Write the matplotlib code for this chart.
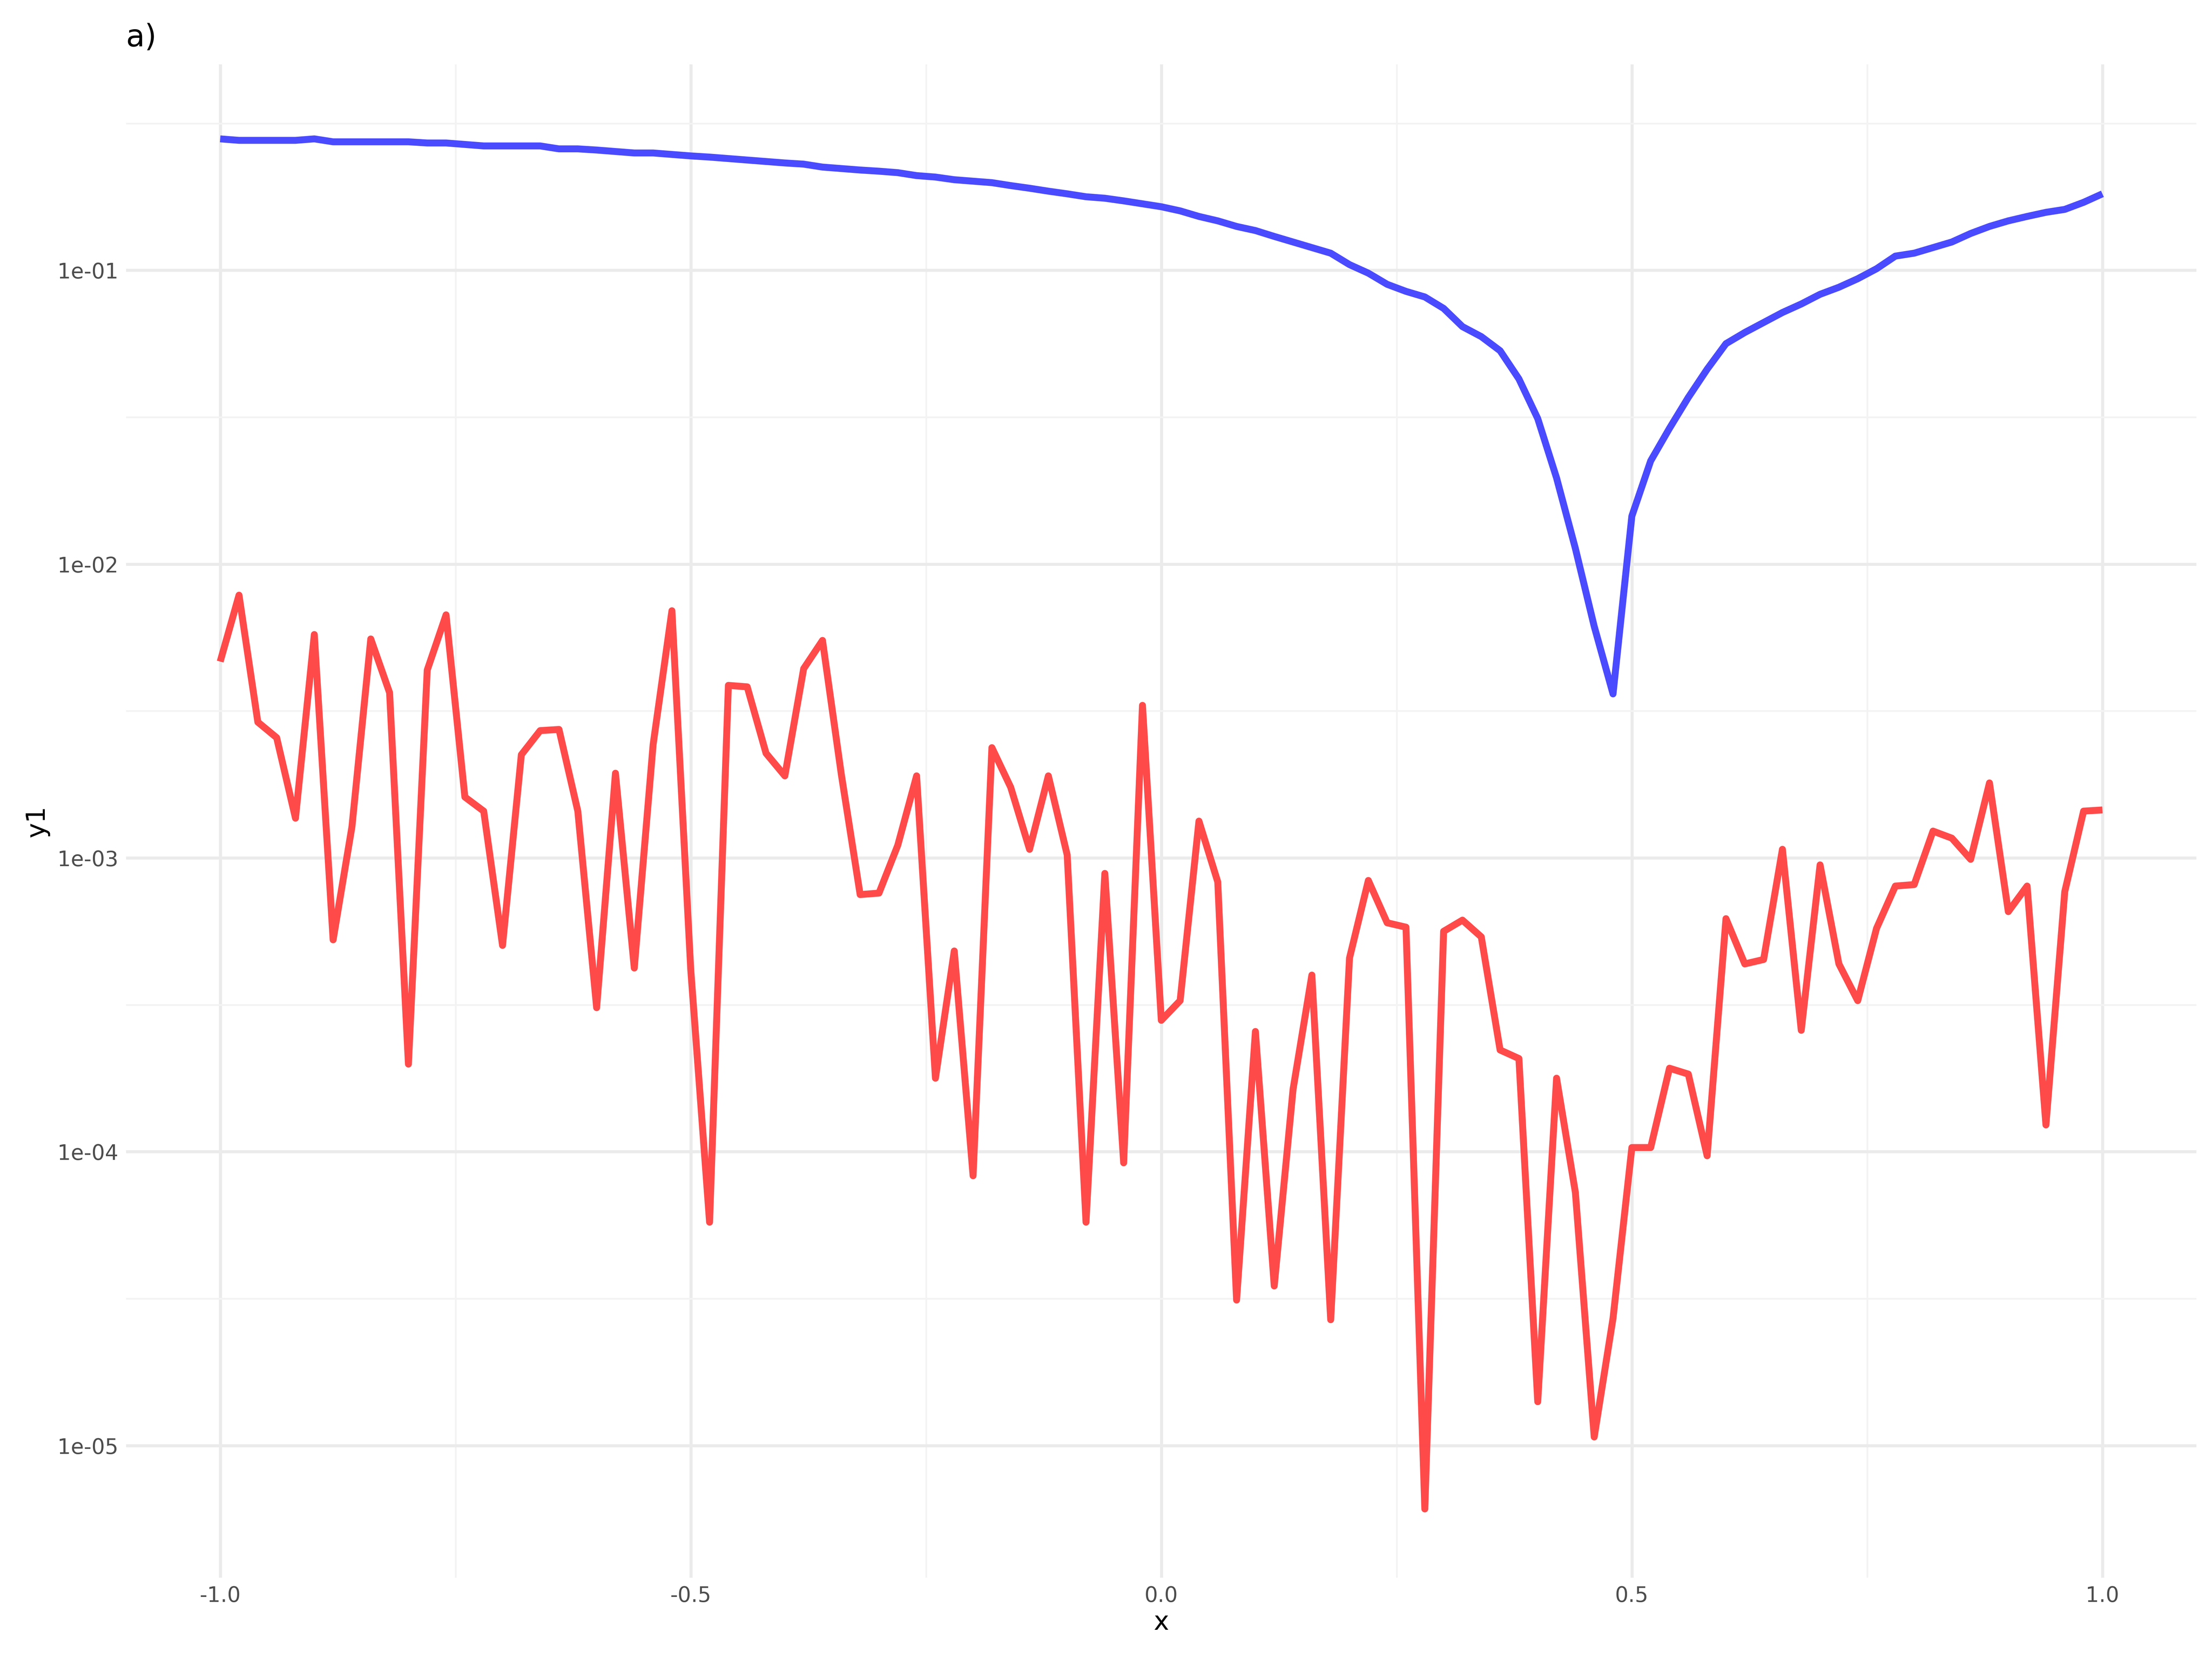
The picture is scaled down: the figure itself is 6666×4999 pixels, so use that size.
import numpy as np
import matplotlib
matplotlib.use('Agg')
import matplotlib.pyplot as plt

# log10 of y1 (x from -1 to 1, step 0.02)
blue_log = [-0.553, -0.558, -0.558, -0.558, -0.558, -0.553, -0.563, -0.563, -0.563, -0.563,
            -0.563, -0.567, -0.567, -0.572, -0.577, -0.577, -0.577, -0.577, -0.587, -0.587,
            -0.591, -0.596, -0.601, -0.601, -0.606, -0.611, -0.615, -0.620, -0.625, -0.630,
            -0.635, -0.639, -0.649, -0.654, -0.659, -0.663, -0.668, -0.678, -0.683, -0.692,
            -0.697, -0.702, -0.712, -0.721, -0.731, -0.740, -0.750, -0.755, -0.764, -0.774,
            -0.784, -0.798, -0.817, -0.832, -0.851, -0.865, -0.885, -0.904, -0.923, -0.942,
            -0.981, -1.010, -1.048, -1.072, -1.091, -1.130, -1.192, -1.226, -1.274, -1.370,
            -1.505, -1.707, -1.947, -2.212, -2.442, -1.837, -1.649, -1.538, -1.433, -1.337,
            -1.250, -1.212, -1.178, -1.144, -1.115, -1.082, -1.058, -1.029, -0.995, -0.952,
            -0.942, -0.923, -0.904, -0.875, -0.851, -0.832, -0.817, -0.803, -0.793, -0.769,
            -0.740]
red_log = [-2.332, -2.106, -2.538, -2.591, -2.865, -2.240, -3.279, -2.894, -2.255, -2.438,
           -3.702, -2.361, -2.173, -2.793, -2.841, -3.298, -2.649, -2.567, -2.563, -2.841,
           -3.510, -2.712, -3.375, -2.615, -2.159, -3.380, -4.240, -2.413, -2.418, -2.644,
           -2.721, -2.356, -2.260, -2.716, -3.125, -3.120, -2.957, -2.721, -3.750, -3.317,
           -4.082, -2.625, -2.760, -2.971, -2.721, -2.990, -4.240, -3.053, -4.038, -2.481,
           -3.553, -3.486, -2.875, -3.082, -4.505, -3.591, -4.457, -3.788, -3.399, -4.572,
           -3.341, -3.077, -3.221, -3.236, -5.216, -3.250, -3.212, -3.269, -3.654, -3.683,
           -4.851, -3.750, -4.139, -4.971, -4.567, -3.986, -3.986, -3.716, -3.736, -4.014,
           -3.207, -3.361, -3.346, -2.971, -3.587, -3.024, -3.361, -3.486, -3.240, -3.096,
           -3.091, -2.909, -2.933, -3.005, -2.745, -3.183, -3.096, -3.909, -3.115, -2.841,
           -2.837]

x_blue = np.linspace(-1, 1, len(blue_log))
x_red = np.linspace(-1, 1, len(red_log))
y_blue = 10 ** np.array(blue_log)
y_red = 10 ** np.array(red_log)

fig = plt.figure(figsize=(16, 12), dpi=416.625)
ax = fig.add_axes([0.057, 0.049, 0.936, 0.912])

ax.plot(x_blue, y_blue, color='#4040FF', lw=3.6, alpha=0.95, solid_capstyle='butt')
ax.plot(x_red, y_red, color='#FF4040', lw=3.6, alpha=0.95, solid_capstyle='butt')

ax.set_yscale('log')
ax.set_xlim(-1.1, 1.1)
ax.set_ylim(10 ** -5.45, 10 ** -0.30)

yt = [1e-5, 1e-4, 1e-3, 1e-2, 1e-1]
ax.set_yticks(yt)
ax.set_yticklabels(['1e-05', '1e-04', '1e-03', '1e-02', '1e-01'])
ax.set_yticks([10 ** (e + 0.5) for e in range(-5, 0)], minor=True)
ax.yaxis.set_minor_formatter(matplotlib.ticker.NullFormatter())
ax.set_xticks([-1.0, -0.5, 0.0, 0.5, 1.0])
ax.set_xticklabels(['-1.0', '-0.5', '0.0', '0.5', '1.0'])
ax.set_xticks([-0.75, -0.25, 0.25, 0.75], minor=True)

ax.grid(True, which='major', color='#EBEBEB', lw=1.6)
ax.grid(True, which='minor', color='#F3F3F3', lw=0.9)
ax.set_axisbelow(True)
for s in ax.spines.values():
    s.set_visible(False)
ax.tick_params(which='both', length=0, labelsize=11, labelcolor='#4D4D4D', pad=4)

ax.set_xlabel('x', fontsize=13.5, labelpad=2)
ax.set_ylabel('y1', fontsize=13.5, labelpad=4)
fig.text(0.057, 0.972, 'a)', fontsize=16, ha='left')

fig.savefig('out.png', dpi=416.625)
